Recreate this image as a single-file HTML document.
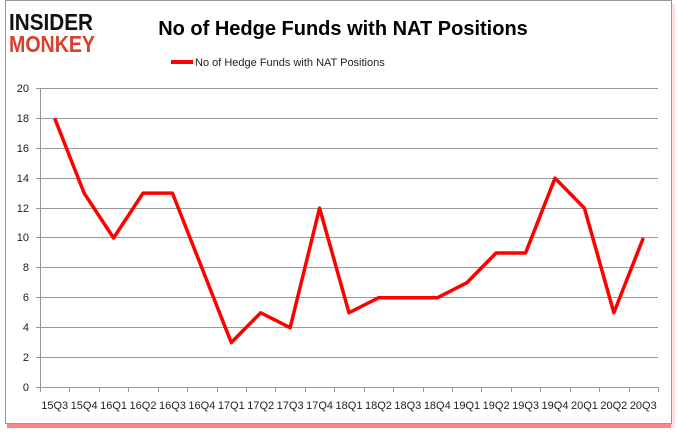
<!DOCTYPE html>
<html><head><style>
body{margin:0;background:#fff;width:678px;height:431px;overflow:hidden;font-family:"Liberation Sans",sans-serif;}
</style></head><body>
<svg width="678" height="431" xmlns="http://www.w3.org/2000/svg" font-family="Liberation Sans, sans-serif">
<rect x="7" y="424" width="664" height="4" fill="#f33" opacity="0.6"/>
<rect x="671" y="4" width="4" height="424" fill="#fcc" opacity="0.6"/>
<rect x="5.5" y="0.5" width="666" height="423" fill="#fff" stroke="#999"/>
<text x="9" y="30" font-size="23" font-weight="bold" fill="#111" textLength="84" lengthAdjust="spacingAndGlyphs">INSIDER</text>
<text x="9" y="52" font-size="23" font-weight="bold" fill="#d8402c" textLength="86" lengthAdjust="spacingAndGlyphs">MONKEY</text>
<text x="343" y="35" font-size="20" font-weight="bold" text-anchor="middle" fill="#000">No of Hedge Funds with NAT Positions</text>
<line x1="171" y1="62" x2="193" y2="62" stroke="#f00" stroke-width="4"/>
<text x="195" y="66" font-size="11" fill="#222">No of Hedge Funds with NAT Positions</text>
<g stroke="#999" stroke-width="1">
<line x1="36" y1="88.5" x2="658" y2="88.5"/><line x1="36" y1="118.5" x2="658" y2="118.5"/>
<line x1="36" y1="148.5" x2="658" y2="148.5"/><line x1="36" y1="178.5" x2="658" y2="178.5"/>
<line x1="36" y1="208.5" x2="658" y2="208.5"/><line x1="36" y1="237.5" x2="658" y2="237.5"/>
<line x1="36" y1="267.5" x2="658" y2="267.5"/><line x1="36" y1="297.5" x2="658" y2="297.5"/>
<line x1="36" y1="327.5" x2="658" y2="327.5"/><line x1="36" y1="357.5" x2="658" y2="357.5"/>
<line x1="36" y1="387.5" x2="658" y2="387.5"/>
<line x1="40.5" y1="88" x2="40.5" y2="391"/>
</g>
<g stroke="#999" id="ticks"></g>
<g font-size="11" fill="#222" text-anchor="end">
<text x="29" y="92">20</text><text x="29" y="122">18</text><text x="29" y="152">16</text><text x="29" y="182">14</text><text x="29" y="212">12</text><text x="29" y="241">10</text><text x="29" y="271">8</text><text x="29" y="301">6</text><text x="29" y="331">4</text><text x="29" y="361">2</text><text x="29" y="391">0</text>
</g>
<g id="xl" font-size="11" fill="#222" text-anchor="middle"></g>
<polyline id="pl" fill="none" stroke="#f00" stroke-width="3.5" stroke-linejoin="round"/>
</svg>
<script>
var d=[18,13,10,13,13,8,3,5,4,12,5,6,6,6,7,9,9,14,12,5,10];
var l=["15Q3","15Q4","16Q1","16Q2","16Q3","16Q4","17Q1","17Q2","17Q3","17Q4","18Q1","18Q2","18Q3","18Q4","19Q1","19Q2","19Q3","19Q4","20Q1","20Q2","20Q3"];
var ns="http://www.w3.org/2000/svg",sp=(658-40)/21,pts=[];
var t=document.getElementById("ticks"),x=document.getElementById("xl");
for(var i=0;i<=21;i++){var e=document.createElementNS(ns,"line");var xx=Math.round(40+i*sp)+0.5;e.setAttribute("x1",xx);e.setAttribute("x2",xx);e.setAttribute("y1",387);e.setAttribute("y2",392);t.appendChild(e);}
for(var i=0;i<21;i++){var cx=40+(i+0.5)*sp;pts.push(cx+","+(387.5-d[i]*14.95));var s=document.createElementNS(ns,"text");s.setAttribute("x",cx);s.setAttribute("y",409);s.textContent=l[i];x.appendChild(s);}
document.getElementById("pl").setAttribute("points",pts.join(" "));
</script>
</body></html>
